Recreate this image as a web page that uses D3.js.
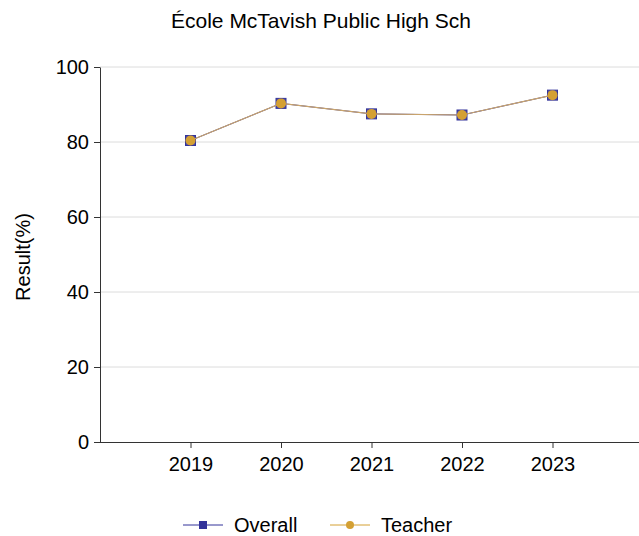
<!DOCTYPE html>
<html><head><meta charset="utf-8">
<script src="https://cdn.jsdelivr.net/npm/d3@7"></script>
<style>body{margin:0;background:#fff}svg{display:block;font-family:"Liberation Sans",Arial,sans-serif}</style>
</head><body><svg id="c" width="639" height="536"></svg>
<script>
const title = "École McTavish Public High Sch";
const years = ["2019","2020","2021","2022","2023"];
const overall = [80.4, 90.3, 87.5, 87.2, 92.5];
const teacher = [80.4, 90.3, 87.5, 87.2, 92.5];
const yTicks = [0,20,40,60,80,100];
const seriesNames = ["Overall","Teacher"];

const svg = d3.select("#c");
const L=100, R=643, T=67, B=442;
const x = d3.scalePoint().domain(years).range([L,R]).padding(1);
const y = d3.scaleLinear().domain([0,100]).range([B,T]);

svg.append("text").attr("x",321).attr("y",28).attr("text-anchor","middle")
  .attr("font-size",21).text(title);

// gridlines
svg.append("g").selectAll("line").data(yTicks.filter(d=>d>0)).join("line")
  .attr("x1",L).attr("x2",639).attr("y1",d=>y(d)).attr("y2",d=>y(d))
  .attr("stroke","#dcdcdc").attr("stroke-width",1);

const ya = svg.append("g").attr("transform",`translate(${L},0)`)
  .call(d3.axisLeft(y).tickValues(yTicks).tickSize(6).tickPadding(5).tickSizeOuter(0));
ya.selectAll("text").attr("font-size",20).attr("fill","#000").style("font-family","Liberation Sans, Arial, sans-serif");
ya.select(".domain").attr("stroke","#333");
ya.selectAll(".tick line").attr("stroke","#333");

const xa = svg.append("g").attr("transform",`translate(0,${B})`)
  .call(d3.axisBottom(x).tickSize(6).tickPadding(9).tickSizeOuter(0));
xa.selectAll("text").attr("font-size",20).attr("fill","#000").style("font-family","Liberation Sans, Arial, sans-serif");
xa.select(".domain").attr("stroke","#333").attr("d",`M${L},0.5H639`);
xa.selectAll(".tick line").attr("stroke","#333");

svg.append("text").attr("transform","translate(30,257) rotate(-90)")
  .attr("text-anchor","middle").attr("font-size",20).text("Result(%)");

const line = d3.line().x((d,i)=>x(years[i])).y(d=>y(d));
const navy="#33339a", gold="#d4a033", tan="#c9a46c";
svg.append("path").datum(overall).attr("d",line).attr("fill","none").attr("stroke",navy).attr("stroke-width",1);
svg.append("g").selectAll("rect").data(overall).join("rect")
  .attr("x",(d,i)=>x(years[i])-5).attr("y",d=>y(d)-5).attr("width",10).attr("height",10)
  .attr("fill","#4a4aa5").attr("stroke",navy);
svg.append("path").datum(teacher).attr("d",line).attr("fill","none").attr("stroke",tan).attr("stroke-width",1.2);
svg.append("g").selectAll("circle").data(teacher).join("circle")
  .attr("cx",(d,i)=>x(years[i])).attr("cy",d=>y(d)).attr("r",5).attr("fill",gold);

// legend
const lg = svg.append("g");
const items = [{n:seriesNames[0],x0:183,c:navy,m:"sq"},{n:seriesNames[1],x0:330,c:gold,m:"ci"}];
items.forEach(it=>{
  lg.append("line").attr("x1",it.x0).attr("x2",it.x0+40).attr("y1",525).attr("y2",525)
    .attr("stroke",it.m==="sq"?navy:gold).attr("stroke-width",1);
  if(it.m==="sq") lg.append("rect").attr("x",it.x0+16).attr("y",521).attr("width",8).attr("height",8).attr("fill",navy);
  else lg.append("circle").attr("cx",it.x0+20).attr("cy",525).attr("r",4).attr("fill",gold);
  lg.append("text").attr("x",it.x0+51).attr("y",532).attr("font-size",20).text(it.n);
});
</script></body></html>
